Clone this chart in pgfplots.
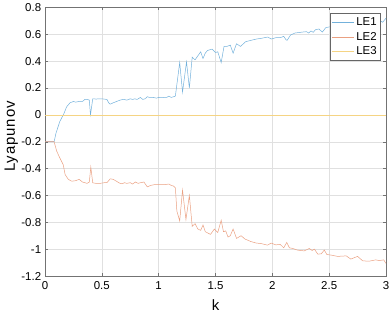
\documentclass[border=0pt]{standalone}
\usepackage{pgfplots}
\pgfplotsset{compat=1.18}
\usepackage{fontspec}
\setmainfont{Liberation Sans}
\newfontfamily\labfont[LetterSpace=6]{Liberation Sans}
\definecolor{mblue}{rgb}{0,0.447,0.741}
\definecolor{mred}{rgb}{0.850,0.325,0.098}
\definecolor{myel}{rgb}{0.929,0.694,0.125}
\begin{document}
\fontsize{11}{13}\selectfont
\begin{tikzpicture}
\useasboundingbox (-45bp,-38bp) rectangle (346bp,276bp);
\begin{axis}[
  at={(0,0)}, anchor=south west,
  scale only axis, width=341bp, height=268.5bp,
  xmin=0, xmax=3, ymin=-1.2, ymax=0.8,
  xtick={0,0.5,...,3}, ytick={-1.2,-1,-0.8,-0.6,-0.4,-0.2,0,0.2,0.4,0.6,0.8},
  /pgf/number format/assume math mode=true,
  tick label style={font=\fontsize{11.5}{13}\selectfont},
  xticklabel style={yshift=-2bp},
  label style={font=\labfont\fontsize{15}{17}\selectfont},
  xlabel={k}, ylabel={Lyapunov},
  xlabel style={at={(axis description cs:0.5,0)}, anchor=base, yshift=-34bp},
  ylabel style={at={(axis description cs:-0.088,0.52)}, anchor=base},
  grid=major, grid style={black!12, line width=0.4pt},
  axis line style={black!55}, tick style={black!55, line width=0.4pt},
  tick align=inside, major tick length=3bp,
  xtick pos=both, ytick pos=both,
  legend style={at={(0.985,0.978)}, anchor=north east, draw=black!60, font=\fontsize{11.5}{13}\selectfont, inner sep=2bp, row sep=1bp},
  legend cell align=left,
  legend image code/.code={\draw[#1, line width=0.6pt] (0bp,0bp) -- (22bp,0bp);},
]
\addplot[mblue!55!white, line width=0.5pt] coordinates {
(0,-0.2)(0.08,-0.2)(0.097,-0.135)(0.13,-0.05)(0.168,0.013)(0.19,0.06)(0.22,0.09)(0.25,0.10)(0.27,0.095)(0.30,0.10)(0.33,0.10)(0.35,0.115)(0.37,0.116)(0.39,0.11)(0.40,0.0)(0.42,0.12)(0.45,0.118)(0.485,0.12)(0.52,0.118)(0.545,0.115)(0.56,0.09)(0.574,0.08)(0.60,0.09)(0.63,0.10)(0.66,0.11)(0.69,0.116)(0.72,0.11)(0.75,0.12)(0.77,0.115)(0.79,0.12)(0.81,0.115)(0.84,0.13)(0.86,0.115)(0.88,0.12)(0.90,0.135)(0.92,0.13)(0.95,0.13)(0.98,0.125)(1.0,0.13)(1.03,0.128)(1.05,0.13)(1.07,0.13)(1.09,0.14)(1.11,0.13)(1.13,0.135)(1.147,0.14)(1.185,0.39)(1.21,0.17)(1.245,0.395)(1.27,0.20)(1.295,0.43)(1.32,0.41)(1.345,0.44)(1.37,0.47)(1.39,0.42)(1.41,0.46)(1.43,0.48)(1.47,0.49)(1.5,0.465)(1.52,0.47)(1.55,0.39)(1.575,0.51)(1.6,0.51)(1.63,0.52)(1.655,0.46)(1.685,0.53)(1.72,0.51)(1.765,0.545)(1.81,0.555)(1.86,0.565)(1.9,0.57)(1.96,0.58)(1.99,0.565)(2.03,0.575)(2.07,0.575)(2.10,0.585)(2.12,0.56)(2.13,0.555)(2.16,0.595)(2.2,0.61)(2.265,0.617)(2.30,0.62)(2.32,0.61)(2.34,0.625)(2.36,0.615)(2.38,0.635)(2.41,0.64)(2.44,0.617)(2.47,0.65)(2.5,0.655)(2.55,0.66)(2.6,0.665)(2.65,0.67)(2.7,0.675)(2.75,0.68)(2.8,0.685)(2.85,0.69)(2.9,0.69)(2.95,0.70)(2.97,0.69)(3.0,0.72)
};
\addlegendentry{LE1}
\addplot[mred!55!white, line width=0.5pt] coordinates {
(0,-0.2)(0.08,-0.2)(0.103,-0.27)(0.13,-0.32)(0.16,-0.37)(0.177,-0.444)(0.205,-0.48)(0.235,-0.494)(0.27,-0.49)(0.30,-0.48)(0.33,-0.50)(0.37,-0.51)(0.39,-0.50)(0.403,-0.388)(0.42,-0.506)(0.45,-0.51)(0.485,-0.51)(0.52,-0.505)(0.545,-0.505)(0.574,-0.476)(0.60,-0.48)(0.63,-0.495)(0.66,-0.51)(0.677,-0.513)(0.70,-0.505)(0.72,-0.51)(0.75,-0.505)(0.77,-0.515)(0.794,-0.50)(0.82,-0.51)(0.84,-0.505)(0.87,-0.50)(0.90,-0.536)(0.93,-0.525)(0.96,-0.52)(1.0,-0.52)(1.015,-0.52)(1.05,-0.52)(1.09,-0.515)(1.11,-0.525)(1.13,-0.53)(1.147,-0.543)(1.16,-0.716)(1.185,-0.79)(1.21,-0.56)(1.24,-0.78)(1.27,-0.60)(1.295,-0.83)(1.32,-0.81)(1.345,-0.85)(1.37,-0.86)(1.39,-0.82)(1.41,-0.87)(1.456,-0.89)(1.49,-0.85)(1.52,-0.876)(1.55,-0.785)(1.57,-0.87)(1.59,-0.864)(1.61,-0.91)(1.63,-0.90)(1.655,-0.85)(1.685,-0.92)(1.725,-0.90)(1.76,-0.925)(1.81,-0.943)(1.86,-0.955)(1.90,-0.958)(1.957,-0.97)(1.99,-0.955)(2.03,-0.968)(2.07,-0.965)(2.10,-0.99)(2.127,-0.95)(2.15,-0.99)(2.18,-0.995)(2.22,-1.007)(2.28,-1.013)(2.325,-0.995)(2.35,-1.01)(2.37,-1.0)(2.40,-1.037)(2.43,-1.035)(2.457,-1.007)(2.48,-1.04)(2.515,-1.044)(2.575,-1.054)(2.65,-1.05)(2.69,-1.074)(2.75,-1.054)(2.795,-1.087)(2.85,-1.09)(2.91,-1.08)(2.94,-1.085)(2.98,-1.08)(3.0,-1.106)
};
\addlegendentry{LE2}
\addplot[myel!55!white, line width=0.6pt] coordinates {(0,0)(3,0)};
\addlegendentry{LE3}
\end{axis}
\end{tikzpicture}
\end{document}
